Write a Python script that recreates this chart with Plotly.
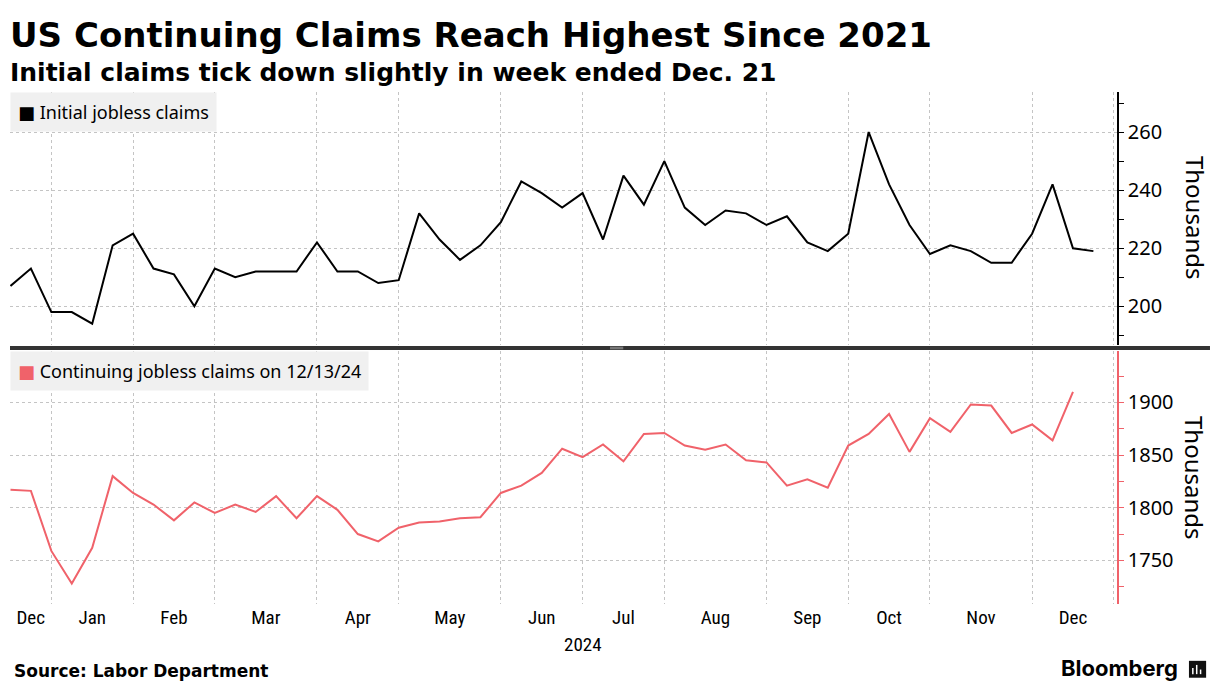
import plotly.graph_objects as go
import pandas as pd

# weekly data, Bloomberg dates the weeks on Fridays
weeks = pd.date_range("2023-12-15", "2024-12-27", freq="7D")

initial_claims = [207, 213, 198, 198, 194, 221, 225, 213, 211, 200,
                  213, 210, 212, 212, 212, 222, 212, 212, 208, 209,
                  232, 223, 216, 221, 229, 243, 239, 234, 239, 223,
                  245, 235, 250, 234, 228, 233, 232, 228, 231, 222,
                  219, 225, 260, 242, 228, 218, 221, 219, 215, 215,
                  225, 242, 220, 219]

continuing_claims = [1817, 1816, 1759, 1728, 1762, 1830, 1814, 1803, 1788, 1805,
                     1795, 1803, 1796, 1811, 1790, 1811, 1798, 1775, 1768, 1781,
                     1786, 1787, 1790, 1791, 1814, 1821, 1833, 1856, 1848, 1860,
                     1844, 1870, 1871, 1859, 1855, 1860, 1845, 1843, 1821, 1827,
                     1819, 1859, 1870, 1889, 1853, 1885, 1872, 1898, 1897, 1871,
                     1879, 1864, 1910]

month_labels = ["Dec", "Jan", "Feb", "Mar", "Apr", "May", "Jun",
                "Jul", "Aug", "Sep", "Oct", "Nov", "Dec"]

RED = "#f0626a"
GRID = "#c4c4c4"
TICK_FONT = "Liberation Sans Narrow, Roboto Condensed, Arial Narrow, sans-serif"
TEXT_FONT = "Noto Sans, DejaVu Sans, sans-serif"
BOLD_FONT = "DejaVu Sans, sans-serif"

x_start = pd.Timestamp("2023-12-14 20:00")
x_end = pd.Timestamp("2024-12-28 02:00")

# vertical grid sits on the last weekly point of each month, month names centred between
month_ends = list(pd.Series(weeks).groupby([weeks.year, weeks.month]).max())
edges = [x_start] + month_ends
label_pos = [edges[i] + (edges[i + 1] - edges[i]) / 2 for i in range(len(month_ends))]

fig = go.Figure()
fig.add_trace(go.Scatter(x=weeks[:len(initial_claims)], y=initial_claims, mode="lines",
                         line=dict(color="#000000", width=2), xaxis="x", yaxis="y",
                         showlegend=False))
fig.add_trace(go.Scatter(x=weeks[:len(continuing_claims)], y=continuing_claims, mode="lines",
                         line=dict(color=RED, width=2), xaxis="x2", yaxis="y2",
                         showlegend=False))

xcommon = dict(type="date", range=[x_start, x_end], showgrid=False, zeroline=False,
               showline=False, tickmode="array", tickvals=label_pos, ticktext=month_labels,
               ticks="", tickfont=dict(family=TICK_FONT, size=19, color="#000"),
               minor=dict(tickmode="array", tickvals=month_ends, showgrid=True,
                          gridcolor=GRID, griddash="dot", gridwidth=1, ticks=""))

# the page body adds 8px, so the margins are pulled in by that much
fig.update_layout(
    width=1220, height=695,
    margin=dict(l=2, r=111, t=84, b=99, autoexpand=False),
    paper_bgcolor="white", plot_bgcolor="white",
    xaxis=dict(xcommon, domain=[0, 1], anchor="y", matches="x2", showticklabels=False),
    xaxis2=dict(xcommon, domain=[0, 1], anchor="y2"),
    yaxis=dict(domain=[0.506, 1], side="right", range=[186.7, 273.8],
               tickmode="linear", tick0=200, dtick=20, ticks="outside", ticklen=5,
               tickcolor="#000", showline=True, linecolor="#000", linewidth=1.5,
               showgrid=True, gridcolor=GRID, griddash="dot", zeroline=False,
               tickfont=dict(family=TEXT_FONT, size=20, color="#000"),
               minor=dict(dtick=10, tick0=200, ticks="outside", ticklen=5,
                          tickcolor="#000", showgrid=False)),
    yaxis2=dict(domain=[0, 0.494], side="right", range=[1708.6, 1948.7],
                tickmode="linear", tick0=1750, dtick=50, ticks="outside", ticklen=5,
                tickcolor=RED, showline=True, linecolor=RED, linewidth=1.5,
                showgrid=True, gridcolor=GRID, griddash="dot", zeroline=False,
                tickfont=dict(family=TEXT_FONT, size=20, color="#000"),
                minor=dict(dtick=25, tick0=1750, ticks="outside", ticklen=5,
                           tickcolor=RED, showgrid=False)),
)

annotations = [
    dict(text="<b>US Continuing Claims Reach Highest Since 2021</b>", x=-0.002, y=1.111,
         xanchor="left", yanchor="middle", font=dict(family=BOLD_FONT, size=34, color="#000")),
    dict(text="<b>Initial claims tick down slightly in week ended Dec. 21</b>", x=-0.002, y=1.038,
         xanchor="left", yanchor="middle", font=dict(family=BOLD_FONT, size=25, color="#000")),
    dict(text="<b>Source: Labor Department</b>", x=0.002, y=-0.131,
         xanchor="left", yanchor="middle", font=dict(family=BOLD_FONT, size=17, color="#000")),
    dict(text="<b>Bloomberg</b>", x=1.0565, y=-0.125, xanchor="right", yanchor="middle",
         font=dict(family="Inter, Noto Sans, sans-serif", size=22, color="#000")),
    dict(text="<span style='color:#000'>■</span> Initial jobless claims", x=0, y=1,
         xanchor="left", yanchor="top", bgcolor="#f0f0f0", borderpad=7,
         font=dict(family=TEXT_FONT, size=18, color="#000")),
    dict(text="<span style='color:%s'>■</span> Continuing jobless claims on 12/13/24" % RED,
         x=0, y=0.494, xanchor="left", yanchor="top", bgcolor="#f0f0f0", borderpad=7,
         font=dict(family=TEXT_FONT, size=18, color="#000")),
    dict(text="Thousands", x=1.0705, y=0.754, textangle=90, xanchor="center", yanchor="middle",
         font=dict(family=TEXT_FONT, size=24, color="#000")),
    dict(text="Thousands", x=1.0705, y=0.246, textangle=90, xanchor="center", yanchor="middle",
         font=dict(family=TEXT_FONT, size=24, color="#000")),
]
for a in annotations:
    a.update(xref="paper", yref="paper", showarrow=False)
fig.update_layout(annotations=annotations)

# year label under the x axis, centred on the mid-year grid line
fig.add_annotation(text="2024", x=month_ends[6], xref="x2", y=-0.08, yref="paper",
                   showarrow=False, xanchor="center", yanchor="middle",
                   font=dict(family=TICK_FONT, size=19, color="#000"))

# panel divider with its little drag handle, and the logo glyph
fig.add_shape(type="line", xref="paper", yref="paper", x0=0, x1=1.084, y0=0.5, y1=0.5,
              line=dict(color="#333333", width=4))
for dy in (0.0015, -0.0015):
    fig.add_shape(type="line", xref="paper", yref="paper", x0=0.542, x1=0.554,
                  y0=0.5 + dy, y1=0.5 + dy, line=dict(color="#aaaaaa", width=0.8))
fig.add_shape(type="rect", xref="paper", yref="paper", x0=1.065, x1=1.0805,
              y0=-0.144, y1=-0.111, fillcolor="#111111", line=dict(width=0))
for i, h in enumerate((0.012, 0.018, 0.009)):
    xb = 1.0685 + i * 0.0035
    fig.add_shape(type="line", xref="paper", yref="paper", x0=xb, x1=xb,
                  y0=-0.137, y1=-0.137 + h, line=dict(color="white", width=1.5))

fig.write_html("out.html")
